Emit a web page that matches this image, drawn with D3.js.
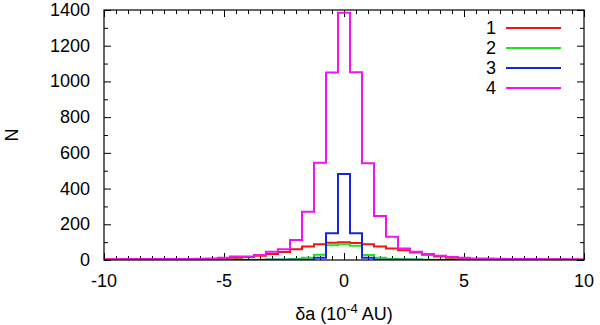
<!DOCTYPE html>
<html>
<head>
<meta charset="utf-8">
<script src="https://cdn.jsdelivr.net/npm/d3@7"></script>
<style>
  body { margin: 0; background: #fff; }
  svg { display: block; font-family: "Liberation Sans", Arial, Helvetica, sans-serif; }
</style>
</head>
<body>
<div id="root"></div>
<script>
const width = 600;
const height = 325;

// bin centres, 10^-4 AU (bins 0.5 wide)
const binCenters = [-10, -9.5, -9, -8.5, -8, -7.5, -7, -6.5, -6, -5.5, -5, -4.5, -4, -3.5, -3, -2.5, -2, -1.5, -1, -0.5,
  0, 0.5, 1, 1.5, 2, 2.5, 3, 3.5, 4, 4.5, 5, 5.5, 6, 6.5, 7, 7.5, 8, 8.5, 9, 9.5, 10];

const counts1 = [3, 4, 6, 5, 4, 4, 4, 5, 5, 6, 8, 12, 17, 24, 34, 45, 60, 75, 88, 97,
  100, 95, 88, 75, 65, 55, 42, 30, 20, 13, 8, 6, 5, 4, 4, 4, 3, 3, 3, 2, 2];
const counts2 = [1, 1, 1, 1, 1, 1, 1, 1, 1, 1, 2, 2, 2, 2, 3, 3, 5, 12, 30, 82,
  88, 80, 28, 13, 6, 4, 3, 2, 2, 2, 1, 1, 1, 1, 1, 1, 1, 1, 1, 1, 1];
const counts3 = [0, 0, 0, 0, 0, 0, 0, 0, 0, 0, 0, 0, 0, 0, 1, 1, 1, 2, 12, 150,
  482, 150, 12, 2, 1, 1, 1, 0, 0, 0, 0, 0, 0, 0, 0, 0, 0, 0, 0, 0, 0];
const counts4 = [4, 4, 5, 4, 5, 5, 6, 6, 7, 8, 12, 19, 20, 28, 46, 60, 112, 270, 545, 1050,
  1385, 1052, 542, 246, 130, 65, 46, 34, 24, 17, 12, 9, 8, 7, 6, 5, 5, 4, 4, 4, 3];

const seriesNames = ["1", "2", "3", "4"];
const seriesColors = ["#f01414", "#22e022", "#1428d8", "#f014f0"];

const xTicks = [-10, -5, 0, 5, 10];
const yTicks = [0, 200, 400, 600, 800, 1000, 1200, 1400];

const margin = {left: 104, right: 16, top: 10, bottom: 65};
const plotW = width - margin.left - margin.right;
const plotH = height - margin.top - margin.bottom;

var svg = d3.select("#root").append("svg")
  .attr("width", width)
  .attr("height", height);

var x = d3.scaleLinear().domain([-10, 10]).range([0, plotW]);
var y = d3.scaleLinear().domain([0, 1400]).range([plotH, 0]);

var g = svg.append("g")
  .attr("transform", `translate(${margin.left},${margin.top})`);

svg.append("defs").append("clipPath")
  .attr("id", "clip")
  .append("rect")
  .attr("width", plotW)
  .attr("height", plotH);

// ticks on all four sides, pointing inward
var minorX = d3.range(-10, 10.01, 0.5).filter(d => d % 5 != 0);
var minorY = d3.range(100, 1400, 200);

function tickAxis(axisFn, scale, values, size) {
  return axisFn(scale).tickValues(values).tickSize(size).tickFormat("");
}

g.append("g").attr("class", "tk").attr("transform", `translate(0,${plotH})`)
  .call(tickAxis(d3.axisTop, x, xTicks, 7));
g.append("g").attr("class", "tk").attr("transform", `translate(0,${plotH})`)
  .call(tickAxis(d3.axisTop, x, minorX, 4));
g.append("g").attr("class", "tk")
  .call(tickAxis(d3.axisBottom, x, xTicks, 7));
g.append("g").attr("class", "tk")
  .call(tickAxis(d3.axisBottom, x, minorX, 4));
g.append("g").attr("class", "tk")
  .call(tickAxis(d3.axisRight, y, yTicks, 7));
g.append("g").attr("class", "tk")
  .call(tickAxis(d3.axisRight, y, minorY, 4));
g.append("g").attr("class", "tk").attr("transform", `translate(${plotW},0)`)
  .call(tickAxis(d3.axisLeft, y, yTicks, 7));
g.append("g").attr("class", "tk").attr("transform", `translate(${plotW},0)`)
  .call(tickAxis(d3.axisLeft, y, minorY, 4));

g.selectAll(".tk .domain").remove();
g.selectAll(".tk line").attr("stroke", "#000").attr("stroke-width", 1);

// tick labels
g.selectAll(".xlab").data(xTicks).enter().append("text")
  .attr("x", d => x(d))
  .attr("y", plotH + 27)
  .attr("text-anchor", "middle")
  .attr("font-size", 18)
  .text(d => d);

g.selectAll(".ylab").data(yTicks).enter().append("text")
  .attr("x", -14)
  .attr("y", d => y(d) + 6)
  .attr("text-anchor", "end")
  .attr("font-size", 18)
  .text(d => d);

// histograms as steps
var allCounts = [counts1, counts2, counts3, counts4];
var line = d3.line()
  .x(d => x(d[0]))
  .y(d => y(d[1]))
  .curve(d3.curveStepAfter);

var histLayer = g.append("g").attr("clip-path", "url(#clip)");

allCounts.forEach((counts, i) => {
  var pts = binCenters.map((c, j) => [c - 0.25, counts[j]]);
  pts.push([binCenters[binCenters.length - 1] + 0.25, counts[counts.length - 1]]);
  histLayer.append("path")
    .attr("d", line(pts))
    .attr("fill", "none")
    .attr("stroke", seriesColors[i])
    .attr("stroke-width", 2);
});

// frame
g.append("rect")
  .attr("width", plotW)
  .attr("height", plotH)
  .attr("fill", "none")
  .attr("stroke", "#000")
  .attr("stroke-width", 1.2);

// legend
var legend = g.append("g").attr("transform", "translate(0,0)");
seriesNames.forEach((name, i) => {
  var ly = 18 + i * 20;
  legend.append("text")
    .attr("x", 392)
    .attr("y", ly + 6)
    .attr("text-anchor", "end")
    .attr("font-size", 18)
    .text(name);
  legend.append("line")
    .attr("x1", 402)
    .attr("x2", 457)
    .attr("y1", ly)
    .attr("y2", ly)
    .attr("stroke", seriesColors[i])
    .attr("stroke-width", 2);
});

// axis titles
var xt = svg.append("text")
  .attr("x", 344)
  .attr("y", 320)
  .attr("text-anchor", "middle")
  .attr("font-size", 18);
xt.append("tspan").text("\u03b4a (10");
xt.append("tspan").attr("dy", -7).attr("font-size", 13).text("-4");
xt.append("tspan").attr("dy", 7).text(" AU)");

svg.append("text")
  .attr("transform", "translate(18,135) rotate(-90)")
  .attr("text-anchor", "middle")
  .attr("font-size", 18)
  .text("N");
</script>
</body>
</html>
